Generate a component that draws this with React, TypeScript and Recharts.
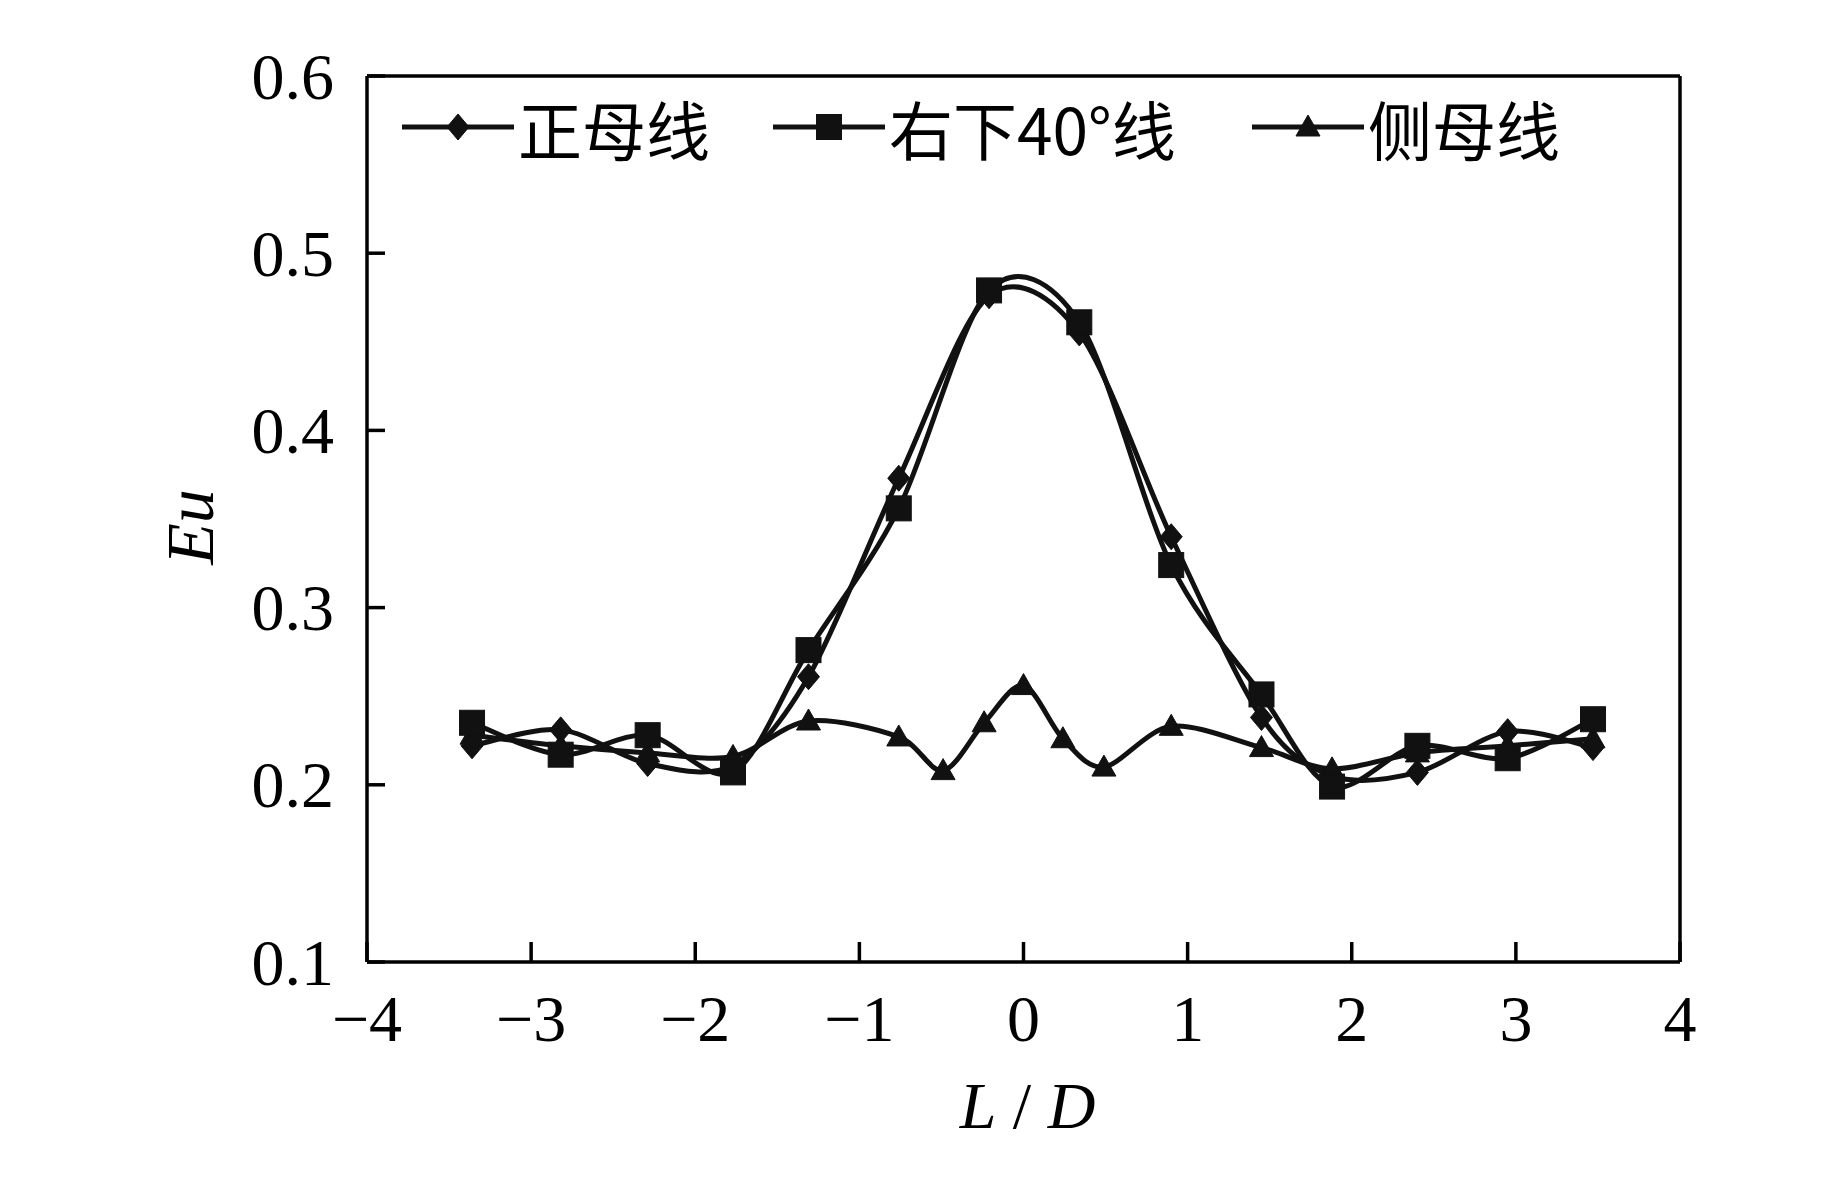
import React from 'react';
import { LineChart, Line, XAxis, YAxis, Legend, Label, ReferenceLine } from 'recharts';

// ---- data ----
const xMain = [-3.36, -2.82, -2.29, -1.77, -1.31, -0.76, -0.21, 0.34, 0.9, 1.45, 1.88, 2.4, 2.95, 3.47];
const zhengValues = [0.222, 0.231, 0.212, 0.211, 0.261, 0.373, 0.476, 0.455, 0.34, 0.238, 0.205, 0.207, 0.23, 0.221];
const youxiaValues = [0.235, 0.217, 0.228, 0.207, 0.276, 0.356, 0.479, 0.461, 0.324, 0.251, 0.199, 0.222, 0.215, 0.237];
const xSide = [-3.36, -2.82, -2.29, -1.77, -1.31, -0.76, -0.49, -0.24, 0, 0.24, 0.49, 0.9, 1.45, 1.88, 2.4, 2.95, 3.47];
const ceValues = [0.228, 0.222, 0.218, 0.216, 0.236, 0.227, 0.208, 0.235, 0.256, 0.226, 0.21, 0.233, 0.221, 0.209, 0.218, 0.222, 0.226];

const xTicks = [-4, -3, -2, -1, 0, 1, 2, 3, 4];
const yTicks = [0.1, 0.2, 0.3, 0.4, 0.5, 0.6];
const xDomain = [-4, 4];
const yDomain = [0.1, 0.6];
const seriesNames = ['正母线', '右下40°线', '侧母线'];
const seriesMarkers = ['diamond', 'square', 'triangle'];
const xTitle = ['L', ' / ', 'D'];
const yTitle = 'Eu';

const zhengData = xMain.map((x, i) => ({ x, y: zhengValues[i] }));
const youxiaData = xMain.map((x, i) => ({ x, y: youxiaValues[i] }));
const ceData = xSide.map((x, i) => ({ x, y: ceValues[i] }));

// ---- styles ----
const SERIF = '"Liberation Serif", "Times New Roman", "DejaVu Serif", serif';
const CJK = '"Noto Sans CJK SC", "Noto Sans", sans-serif';
const INK = '#111';
const AXIS_W = 3.5;
const TICK_FS = 66;

// smooth curve (Catmull-Rom via cubic Bezier, like spreadsheet smoothed lines)
function smoothCurve(context: any) {
  let pts: number[][] = [];
  const k = 1 / 6.5;
  return {
    areaStart() {},
    areaEnd() {},
    lineStart() {
      pts = [];
    },
    lineEnd() {
      const n = pts.length;
      if (!n) return;
      context.moveTo(pts[0][0], pts[0][1]);
      for (let i = 0; i < n - 1; i++) {
        const p0 = pts[i - 1] || pts[i];
        const p1 = pts[i];
        const p2 = pts[i + 1];
        const p3 = pts[i + 2] || p2;
        context.bezierCurveTo(
          p1[0] + (p2[0] - p0[0]) * k,
          p1[1] + (p2[1] - p0[1]) * k,
          p2[0] - (p3[0] - p1[0]) * k,
          p2[1] - (p3[1] - p1[1]) * k,
          p2[0],
          p2[1]
        );
      }
    },
    point(x: number, y: number) {
      pts.push([+x, +y]);
    },
  };
}

function marker(kind: string, cx: number, cy: number) {
  if (kind === 'diamond') {
    return (
      <polygon
        points={`${cx},${cy - 13} ${cx + 11},${cy} ${cx},${cy + 13} ${cx - 11},${cy}`}
        fill={INK}
        stroke={INK}
        strokeWidth={1}
      />
    );
  }
  if (kind === 'square') {
    return <rect x={cx - 12.5} y={cy - 12.5} width={25} height={25} fill={INK} stroke={INK} strokeWidth={1} />;
  }
  return (
    <polygon
      points={`${cx},${cy - 12} ${cx + 12},${cy + 9} ${cx - 12},${cy + 9}`}
      fill={INK}
      stroke={INK}
      strokeWidth={1}
    />
  );
}

const makeDot = (kind: string) => (p: any) => {
  if (p.cx == null || p.cy == null) return <g key={p.index} />;
  return <g key={`${kind}-${p.index}`}>{marker(kind, p.cx, p.cy)}</g>;
};

const fmtX = (v: number) => (v < 0 ? `\u2212${Math.abs(v)}` : `${v}`);
const fmtY = (v: number) => v.toFixed(1);

const XTick = (props: any) => {
  const { x, y, payload } = props;
  return (
    <g>
      <line x1={x} y1={y} x2={x} y2={y - 20} stroke="#000" strokeWidth={AXIS_W} />
      <text x={x} y={y + 56} textAnchor="middle" dominantBaseline="central" fontFamily={SERIF} fontSize={TICK_FS} fill="#000">
        {fmtX(payload.value)}
      </text>
    </g>
  );
};

const YTick = (props: any) => {
  const { x, y, payload } = props;
  return (
    <g>
      <line x1={x} y1={y} x2={x + 18} y2={y} stroke="#000" strokeWidth={AXIS_W} />
      <text x={x - 33} y={y} textAnchor="end" dominantBaseline="central" fontFamily={SERIF} fontSize={TICK_FS} fill="#000">
        {fmtY(payload.value)}
      </text>
    </g>
  );
};

const XTitle = (props: any) => {
  const vb = props.viewBox || {};
  const cx = vb.x + vb.width / 2 + 4;
  const cy = vb.y + 143;
  return (
    <text x={cx} y={cy} textAnchor="middle" dominantBaseline="central" fontFamily={SERIF} fontSize={66} fill="#000">
      <tspan fontStyle="italic">{xTitle[0]}</tspan>
      <tspan>{xTitle[1]}</tspan>
      <tspan fontStyle="italic">{xTitle[2]}</tspan>
    </text>
  );
};

const YTitle = (props: any) => {
  const vb = props.viewBox || {};
  const cx = 182;
  const cy = vb.y + vb.height / 2 + 8;
  return (
    <text
      x={cx}
      y={cy}
      transform={`rotate(-90 ${cx} ${cy})`}
      textAnchor="middle"
      dominantBaseline="central"
      fontFamily={SERIF}
      fontStyle="italic"
      fontSize={68}
      fill="#000"
    >
      {yTitle}
    </text>
  );
};

const legendItemWidths = [371, 479, 340];

const LegendContent = () => (
  <div style={{ display: 'flex', alignItems: 'center', height: 64 }}>
    {seriesNames.map((name, i) => (
      <div key={name} style={{ display: 'flex', alignItems: 'center', width: legendItemWidths[i] }}>
        <svg width={112} height={40} style={{ display: 'block' }}>
          <line x1={0} y1={20} x2={112} y2={20} stroke={INK} strokeWidth={5} />
          {marker(seriesMarkers[i], 56, 20)}
        </svg>
        <span
          style={{
            marginLeft: 4,
            fontFamily: CJK,
            fontSize: 64,
            lineHeight: '64px',
            color: '#000',
            whiteSpace: 'nowrap',
          }}
        >
          {name}
        </span>
      </div>
    ))}
  </div>
);

export default function App() {
  return (
    <LineChart width={1827} height={1165} margin={{ top: 68, right: 155, bottom: 61, left: 0 }}>
      <XAxis
        dataKey="x"
        type="number"
        domain={xDomain}
        ticks={xTicks}
        allowDataOverflow
        height={150}
        tickSize={0}
        tickMargin={0}
        tickLine={false}
        axisLine={{ stroke: '#000', strokeWidth: AXIS_W }}
        tick={<XTick />}
        interval={0}
      >
        <Label content={<XTitle />} />
      </XAxis>
      <YAxis
        type="number"
        domain={yDomain}
        ticks={yTicks}
        allowDataOverflow
        width={359}
        tickSize={0}
        tickMargin={0}
        tickLine={false}
        axisLine={{ stroke: '#000', strokeWidth: AXIS_W }}
        tick={<YTick />}
        interval={0}
      >
        <Label content={<YTitle />} />
      </YAxis>
      <ReferenceLine y={yDomain[1]} stroke="#000" strokeWidth={AXIS_W} ifOverflow="extendDomain" />
      <ReferenceLine x={xDomain[1]} stroke="#000" strokeWidth={AXIS_W} ifOverflow="extendDomain" />
      <Legend
        layout="horizontal"
        verticalAlign="middle"
        align="center"
        wrapperStyle={{ top: 87, left: 394, width: 1250, height: 64 }}
        content={() => <LegendContent />}
      />
      <Line
        data={ceData}
        dataKey="y"
        name={seriesNames[2]}
        type={smoothCurve as any}
        stroke={INK}
        strokeWidth={5}
        dot={makeDot('triangle')}
        activeDot={false}
        isAnimationActive={false}
        legendType="triangle"
      />
      <Line
        data={zhengData}
        dataKey="y"
        name={seriesNames[0]}
        type={smoothCurve as any}
        stroke={INK}
        strokeWidth={5}
        dot={makeDot('diamond')}
        activeDot={false}
        isAnimationActive={false}
        legendType="diamond"
      />
      <Line
        data={youxiaData}
        dataKey="y"
        name={seriesNames[1]}
        type={smoothCurve as any}
        stroke={INK}
        strokeWidth={5}
        dot={makeDot('square')}
        activeDot={false}
        isAnimationActive={false}
        legendType="square"
      />
    </LineChart>
  );
}
